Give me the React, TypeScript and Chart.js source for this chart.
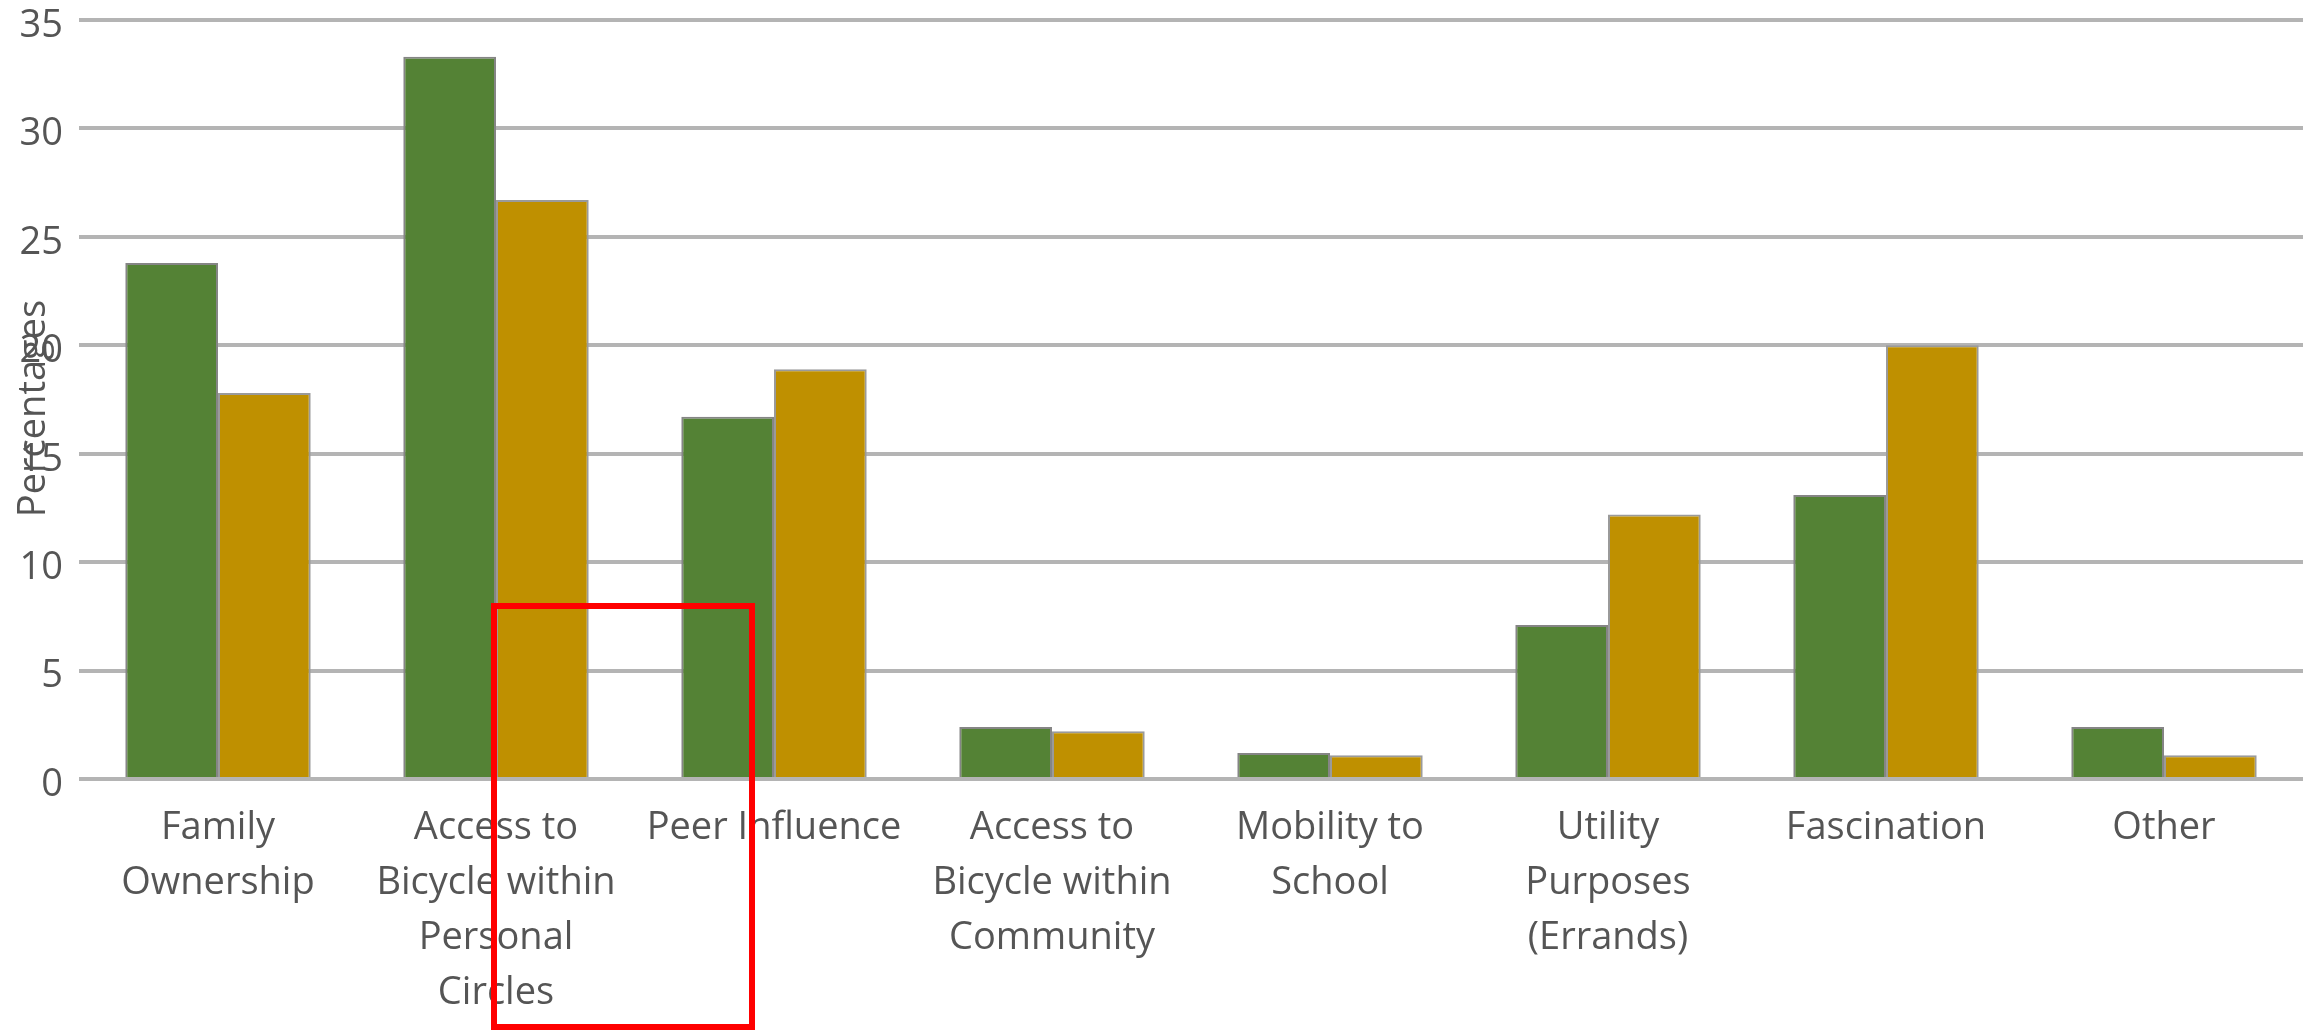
import React, { useEffect, useRef } from "react";
import { Chart, registerables } from "chart.js";

Chart.register(...registerables);

const categories: (string | string[])[] = [
  ["Family", "Ownership"],
  ["Access to", "Bicycle within", "Personal", "Circles"],
  "Peer Influence",
  ["Access to", "Bicycle within", "Community"],
  ["Mobility to", "School"],
  ["Utility", "Purposes", "(Errands)"],
  "Fascination",
  "Other",
];

const seriesGreen: number[] = [23.8, 33.3, 16.7, 2.4, 1.2, 7.1, 13.1, 2.4];
const seriesGold: number[] = [17.8, 26.7, 18.9, 2.2, 1.1, 12.2, 20.0, 1.1];

const yMin = 0;
const yMax = 35;
const yStep = 5;
const yTitle = "Percentages";

const FONT = "'Open Sans', sans-serif";
const TEXT = "#555555";

const yTitlePlugin = {
  id: "yTitleOverlay",
  afterDraw(chart: any) {
    const { ctx, chartArea } = chart;
    ctx.save();
    ctx.font = `38px ${FONT}`;
    ctx.fillStyle = TEXT;
    ctx.textAlign = "center";
    ctx.textBaseline = "alphabetic";
    ctx.translate(45, (chartArea.top + chartArea.bottom) / 2 + 9);
    ctx.rotate(-Math.PI / 2);
    ctx.fillText(yTitle, 0, 0);
    ctx.restore();
  },
};

export default function App() {
  const ref = useRef<HTMLCanvasElement | null>(null);

  useEffect(() => {
    document.body.style.margin = "0";
    const canvas = ref.current!;
    const chart = new Chart(canvas, {
      type: "bar",
      data: {
        labels: categories,
        datasets: [
          {
            label: "Series 1",
            data: seriesGreen,
            backgroundColor: "#548235",
            borderColor: "#858585",
            borderWidth: 2,
            categoryPercentage: 0.667,
            barPercentage: 1.0,
          },
          {
            label: "Series 2",
            data: seriesGold,
            backgroundColor: "#bf9000",
            borderColor: "#9a9a9a",
            borderWidth: 2,
            categoryPercentage: 0.667,
            barPercentage: 1.0,
          },
        ],
      },
      options: {
        responsive: false,
        animation: false,
        devicePixelRatio: 1,
        layout: { padding: { top: 20, left: 0, right: 9, bottom: 0 } },
        plugins: {
          legend: { display: false },
          tooltip: { enabled: false },
          title: { display: false },
        },
        scales: {
          x: {
            grid: { display: false },
            border: { display: false },
            ticks: {
              autoSkip: false,
              maxRotation: 0,
              minRotation: 0,
              padding: 14,
              color: TEXT,
              font: { family: FONT, size: 38, lineHeight: 55 / 38 },
            },
            afterFit: (s: any) => {
              s.height = 251;
              s.paddingLeft = 0;
              s.paddingRight = 0;
            },
          },
          y: {
            min: yMin,
            max: yMax,
            grid: {
              color: "#b4b4b4",
              lineWidth: 4,
              drawTicks: false,
            },
            border: { display: false },
            ticks: {
              stepSize: yStep,
              padding: 16,
              labelOffset: 6,
              color: TEXT,
              font: { family: FONT, size: 38 },
            },
            afterFit: (s: any) => {
              s.width = 79;
              s.paddingTop = 0;
              s.paddingBottom = 0;
            },
          },
        },
      },
      plugins: [yTitlePlugin],
    });
    return () => chart.destroy();
  }, []);

  return (
    <div style={{ position: "relative", width: 2312, height: 1030, background: "#fff" }}>
      <canvas
        ref={ref}
        width={2312}
        height={1030}
        style={{ position: "absolute", left: 0, top: 0, width: 2312, height: 1030 }}
      />
      <div
        style={{
          position: "absolute",
          left: 491,
          top: 603,
          width: 264,
          height: 427,
          boxSizing: "border-box",
          border: "6px solid #ff0000",
          pointerEvents: "none",
        }}
      />
    </div>
  );
}
